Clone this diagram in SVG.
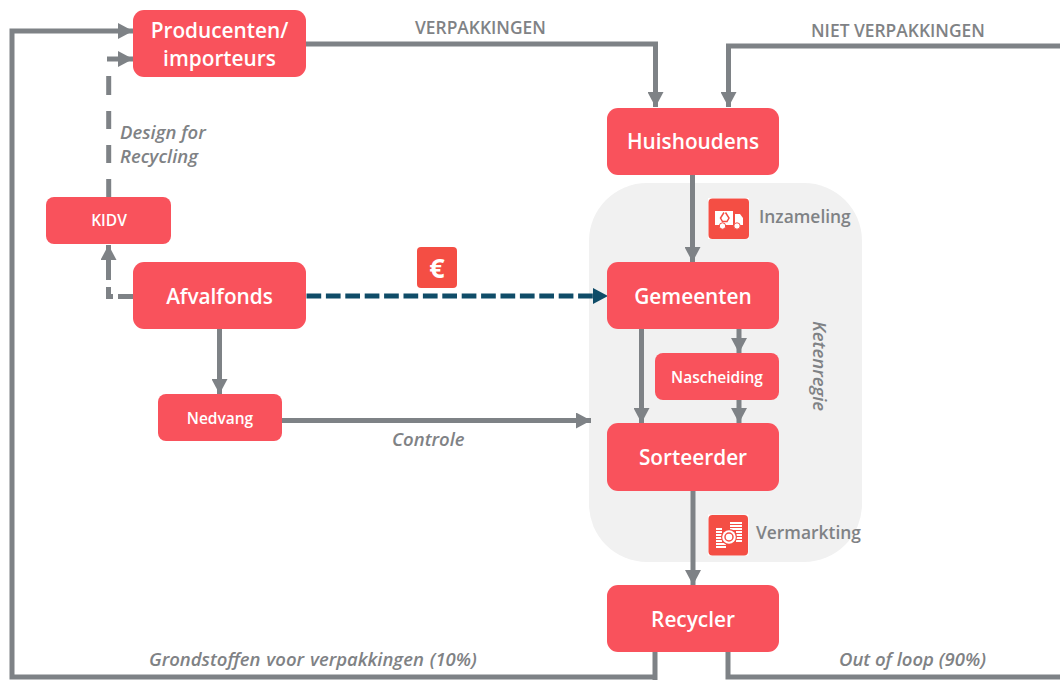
<svg xmlns="http://www.w3.org/2000/svg" width="1060" height="680" viewBox="0 0 1060 680">
<style>
text{font-family:"Open Sans","Noto Sans","Liberation Sans",sans-serif}
.n{fill:#f9525c}
.t{fill:#fff;text-anchor:middle;font-weight:600}
.big{font-size:20.800px}
.sm{font-size:15.500px}
.l{fill:#7f8285;font-weight:600;font-size:17.400px}
.i{font-style:italic;font-size:18.500px}
.c{fill:none;stroke:#7e8286;stroke-width:5}
.bl{fill:none;stroke:#0f4c68;stroke-width:5;stroke-dasharray:14.700 4.700}
.ic{fill:#f44e44}
.w{fill:#fff}
.rs{stroke:#f44e44;fill:none;stroke-width:1.500}
.ws{stroke:#fff;fill:none;stroke-width:2}
</style>
<defs>
<marker id="a" markerUnits="userSpaceOnUse" markerWidth="16" markerHeight="16" refX="15" refY="8" orient="auto"><path d="M0 0L15 8L0 16z" fill="#7e8286"/></marker>
</defs>
<rect id="ketenregie-bg" x="589" y="183" width="273" height="379" rx="58" fill="#f1f1f1"/>
<g id="connectors">
<path class="c" marker-end="url(#a)" d="M655 680V652M655 677H12V31H133"/>
<path class="c" d="M728 652V677H1060"/>
<path class="c" d="M108.700 197V179M108.700 163V145M108.700 129V111M108.700 95V76"/>
<path class="c" marker-end="url(#a)" d="M107 59H133"/>
<path class="c" marker-end="url(#a)" d="M306 44H655.500V107"/>
<path class="c" marker-end="url(#a)" d="M1060 46H728.500V107"/>
<path class="c" marker-end="url(#a)" d="M692.500 175V262"/>
<path class="c" d="M133 296.500H118M113 296.500H108.500V287"/>
<path class="c" marker-end="url(#a)" d="M108.500 280V245"/>
<path class="c" marker-end="url(#a)" d="M219.500 329V394"/>
<path class="bl" d="M306.500 296H596"/>
<path d="M593 288L608 296L593 304z" fill="#0f4c68"/>
<path class="c" marker-end="url(#a)" d="M282 420.500H591"/>
<path class="c" marker-end="url(#a)" d="M641.500 329V423"/>
<path class="c" marker-end="url(#a)" d="M739 329V353"/>
<path class="c" marker-end="url(#a)" d="M739 400V423"/>
<path class="c" marker-end="url(#a)" d="M693 491V585"/>
</g>
<g id="producenten"><rect class="n" x="133" y="10" width="173" height="67" rx="11"/><text class="t big" x="219.500" y="37.500">Producenten/</text><text class="t big" x="219.500" y="66">importeurs</text></g>
<g id="huishoudens"><rect class="n" x="607" y="108" width="172" height="67" rx="11"/><text class="t big" x="693" y="148.500">Huishoudens</text></g>
<g id="kidv"><rect class="n" x="46" y="197" width="125" height="47" rx="8"/><text class="t sm" x="109" y="226">KIDV</text></g>
<g id="afvalfonds"><rect class="n" x="133" y="262" width="173" height="67" rx="11"/><text class="t big" x="219.500" y="303.500">Afvalfonds</text></g>
<g id="gemeenten"><rect class="n" x="607" y="262" width="172" height="67" rx="11"/><text class="t big" x="693" y="303.500">Gemeenten</text></g>
<g id="nedvang"><rect class="n" x="158" y="394" width="124" height="47" rx="8"/><text class="t sm" x="220" y="424">Nedvang</text></g>
<g id="nascheiding"><rect class="n" x="655" y="353" width="124" height="47" rx="8"/><text class="t sm" x="717" y="383">Nascheiding</text></g>
<g id="sorteerder"><rect class="n" x="607" y="423" width="172" height="68" rx="11"/><text class="t big" x="693" y="464.500">Sorteerder</text></g>
<g id="recycler"><rect class="n" x="607" y="585" width="172" height="67" rx="11"/><text class="t big" x="693" y="626.500">Recycler</text></g>
<g id="euro-icon"><rect class="ic" x="417" y="247" width="40" height="41" rx="4"/><text x="437" y="278" text-anchor="middle" font-size="27" font-weight="700" fill="#fff">€</text></g>
<g id="truck-icon"><rect x="708" y="198" width="41" height="41" fill="#fff"/><rect class="ic" x="708.500" y="198.500" width="40.500" height="40.500" rx="4"/>
<path class="w" d="M715 211H733V225H715zM735 214H740L743 218V225H735z"/>
<circle cx="722.500" cy="226" r="3.200" fill="#fff" stroke="#f44e44"/><circle cx="737" cy="226" r="3.200" fill="#fff" stroke="#f44e44"/>
<path class="rs" d="M724 212.500L720.500 218L722.500 221.500H727L729 218L725.500 212.500"/></g>
<g id="coins-icon"><rect x="708" y="514.500" width="40.500" height="41" fill="#fff"/><rect class="ic" x="708.500" y="515" width="39.500" height="40.500" rx="4"/>
<path class="ws" d="M730 523H742M730 526H742M730 529H742M736 532H742M736 535H742M736 538H742M736 541H742M716 529H722M716 532H722M716 535H722M716 538H722M716 541H722M716 544H726M716 547H726"/>
<circle cx="729" cy="537" r="8" fill="#f44e44"/><circle cx="729" cy="537" r="6.800" fill="#fff"/><circle cx="729" cy="537" r="4" class="rs"/></g>
<g id="labels">
<text class="l" x="415" y="34">VERPAKKINGEN</text>
<text class="l" x="811" y="37">NIET VERPAKKINGEN</text>
<text class="l" x="759" y="223">Inzameling</text>
<text class="l" x="756" y="538.500">Vermarkting</text>
<text class="l i" x="120" y="139">Design for</text>
<text class="l i" x="120" y="163">Recycling</text>
<text class="l i" x="392" y="446">Controle</text>
<text class="l i" x="149" y="666" word-spacing="1">Grondstoffen voor verpakkingen (10%)</text>
<text class="l i" x="839" y="666">Out of loop (90%)</text>
<text class="l i" transform="translate(813 321) rotate(90)">Ketenregie</text>
</g>
</svg>
